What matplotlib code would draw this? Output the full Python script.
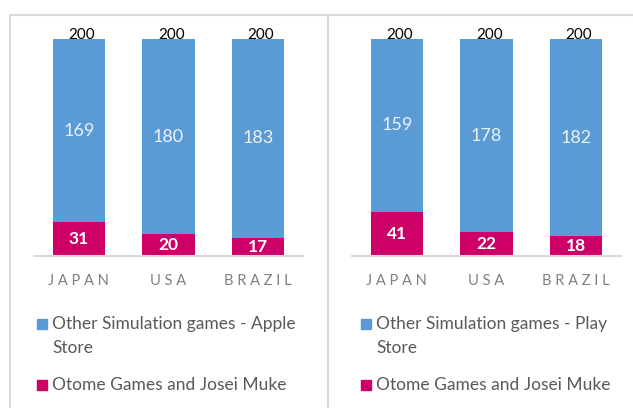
import matplotlib.pyplot as plt
from matplotlib.lines import Line2D
from matplotlib.patches import Rectangle

plt.rcParams['font.family'] = ['Lato', 'DejaVu Sans']

countries = ['JAPAN', 'USA', 'BRAZIL']
apple_otome = [31, 20, 17]
apple_other = [169, 180, 183]
play_otome = [41, 22, 18]
play_other = [159, 178, 182]
totals = [200, 200, 200]

legend_other = ['Other Simulation games - Apple\nStore', 'Other Simulation games - Play\nStore']
legend_otome = 'Otome Games and Josei Muke'

blue = '#5B9BD5'
pink = '#CC0066'
grid_gray = '#D9D9D9'

W, H = 633, 408
fig = plt.figure(figsize=(W / 100, H / 100), dpi=100)

def fx(x):
    return x / W

def fy(y):
    return 1 - y / H

# panel borders (figure pixel coordinates)
def px_line(xs, ys):
    fig.add_artist(Line2D([fx(x) for x in xs], [fy(y) for y in ys],
                          color=grid_gray, lw=1.5, transform=fig.transFigure))

px_line([10, 10], [15, 410])
px_line([10, 633], [15, 15])
px_line([328, 328], [15, 410])

# legend entry: square + text lines (pixel positions)
def legend_entry(sx, base_y, color, label):
    fig.add_artist(Rectangle((fx(sx), fy(base_y)), 10.5 / W, 10.5 / H,
                             color=color, transform=fig.transFigure))
    for k, line in enumerate(label.split('\n')):
        fig.text(fx(sx + 16), fy(base_y + 24 * k), line, ha='left', va='baseline',
                 fontsize=12.5, color='#595959')

panels = [(34, apple_otome, apple_other, legend_other[0], 36.5),
          (352, play_otome, play_other, legend_other[1], 360.5)]

for left_px, otome, other, other_label, leg_x in panels:
    ax = fig.add_axes([fx(left_px), fy(256), 269 / W, 217 / H])
    x = range(len(countries))
    ax.bar(x, otome, width=0.58, color=pink)
    ax.bar(x, other, width=0.58, bottom=otome, color=blue)
    ax.set_xlim(-0.5, 2.5)
    ax.set_ylim(0, 200)
    for i in x:
        ax.text(i, otome[i] / 2, str(otome[i]), ha='center', va='center',
                color='white', fontsize=12.5, fontweight='bold')
        ax.text(i, otome[i] + other[i] / 2, str(other[i]), ha='center', va='center',
                color='#EAF1FA', fontsize=13)
        ax.text(i + 0.03, totals[i], str(totals[i]), ha='center', va='baseline',
                color='black', fontsize=11)
    ax.set_xticks(list(x))
    ax.set_xticklabels([' '.join(c) for c in countries], color='#7F7F7F', fontsize=10.5)
    ax.tick_params(axis='x', length=0, pad=13)
    ax.set_yticks([])
    for s in ['top', 'right', 'left']:
        ax.spines[s].set_visible(False)
    ax.spines['bottom'].set_color(grid_gray)
    ax.spines['bottom'].set_linewidth(1.5)

    legend_entry(leg_x, 329, blue, other_label)
    legend_entry(leg_x, 390, pink, legend_otome)

fig.savefig('out.png', dpi=100)
